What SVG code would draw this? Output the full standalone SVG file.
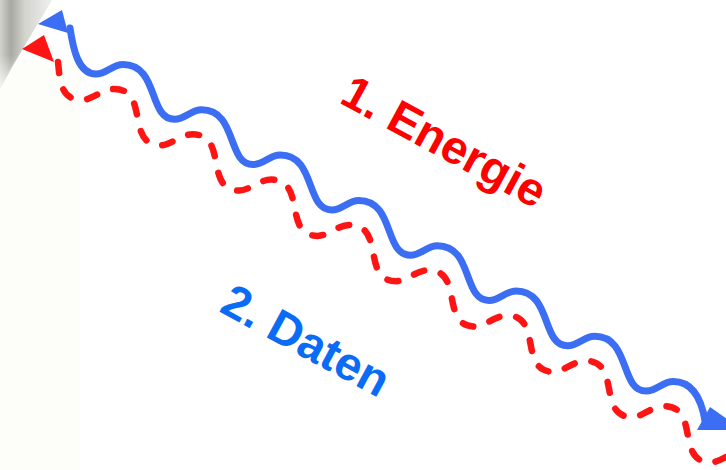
<svg xmlns="http://www.w3.org/2000/svg" width="726" height="470" viewBox="0 0 726 470">
<defs>
<linearGradient id="shade" gradientUnits="userSpaceOnUse" x1="0" y1="0" x2="50" y2="0">
<stop offset="0" stop-color="#d2d2cd"/>
<stop offset="0.22" stop-color="#a9a9a3"/>
<stop offset="0.5" stop-color="#d4d4cf"/>
<stop offset="1" stop-color="#ededea"/>
</linearGradient>
<linearGradient id="fadeDown" gradientUnits="userSpaceOnUse" x1="0" y1="55" x2="0" y2="95">
<stop offset="0" stop-color="#fdfdf9" stop-opacity="0"/>
<stop offset="1" stop-color="#fdfdf9" stop-opacity="1"/>
</linearGradient>
</defs>
<style>
.wave-blue{fill:none;stroke:#3b6ef2;stroke-width:7;stroke-linecap:round;stroke-linejoin:round}
.wave-red{fill:none;stroke:#ff1414;stroke-width:6.5;stroke-linecap:round;stroke-dasharray:11 17}
.head-blue{fill:#3b6ef2}
.head-red{fill:#ff1414}
.label{font-family:"Liberation Sans",Arial,sans-serif;font-weight:bold;font-size:47px}
</style>
<rect width="726" height="470" fill="#ffffff"/>
<rect x="0" y="60" width="80" height="410" fill="#fdfdf9"/>
<polygon points="0,0 52,0 12,67 0,90" fill="url(#shade)"/>
<rect x="0" y="55" width="20" height="40" fill="url(#fadeDown)"/>

<g id="connectors">
<path class="wave-blue" d="M70,28 C73,48 78,74 96,74 c11,0 16,-9.5 27,-9.5 c36,0 25,54.8 51.6,54.8 c11,0 16,-9.5 27,-9.5 c36,0 25,54.8 51.6,54.8 c11,0 16,-9.5 27,-9.5 c36,0 25,54.8 51.6,54.8 c11,0 16,-9.5 27,-9.5 c36,0 25,54.8 51.6,54.8 c11,0 16,-9.5 27,-9.5 c36,0 25,54.8 51.6,54.8 c11,0 16,-9.5 27,-9.5 c36,0 25,54.8 51.6,54.8 c11,0 16,-9.5 27,-9.5 c36,0 25,54.8 51.6,54.8 c11,0 16,-9.5 27,-9.5 c18,0 28,16 32,40"/>
<polygon class="head-blue" points="38,24 62,10 68,33"/>
<polygon class="head-blue" points="697,430 710,407 743,430"/>
<path class="wave-red" d="M58,62 C60,82 61,100 82,100 c10,0 20,-11 32,-11 c36,0 11,56.3 46.6,56.3 c10,0 20,-11 32,-11 c36,0 11,56.3 46.6,56.3 c10,0 20,-11 32,-11 c36,0 11,56.3 46.6,56.3 c10,0 20,-11 32,-11 c36,0 11,56.3 46.6,56.3 c10,0 20,-11 32,-11 c36,0 11,56.3 46.6,56.3 c10,0 20,-11 32,-11 c36,0 11,56.3 46.6,56.3 c10,0 20,-11 32,-11 c36,0 11,56.3 46.6,56.3 c10,0 20,-11 32,-11 c36,0 11,56.3 46.6,56.3 c10,0 20,-11 32,-11"/>
<polygon class="head-red" points="22,49 44,35 54,62"/>
</g>

<g id="label-energie">
<text class="label" fill="#ff0000" transform="translate(338,102) rotate(28.5)">1. Energie</text>
</g>
<g id="label-daten">
<text class="label" fill="#0a6cf5" transform="translate(218,311) rotate(28.5)">2. Daten</text>
</g>
</svg>
